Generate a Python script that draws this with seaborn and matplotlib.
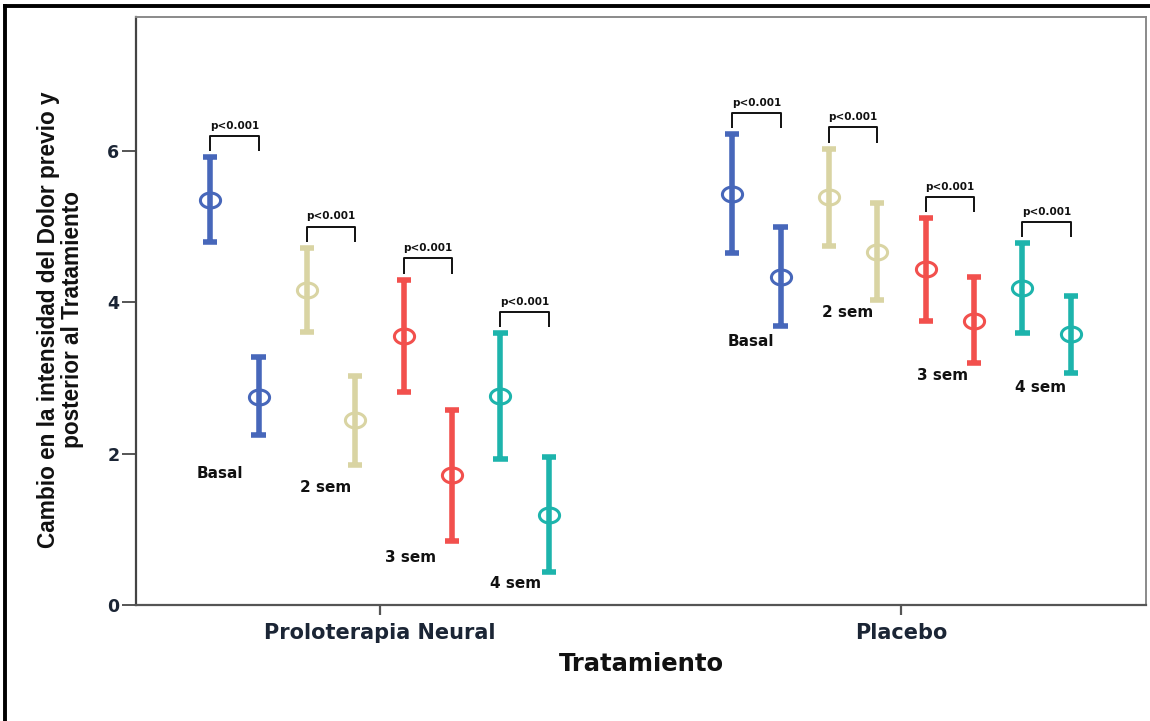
import numpy as np
import pandas as pd
import matplotlib
matplotlib.use("Agg")
import matplotlib.pyplot as plt
from matplotlib.lines import Line2D
from matplotlib.path import Path
import seaborn as sns

# ---------------- data ----------------
groups = ["Proloterapia Neural", "Placebo"]
timepoints = ["Basal", "2 sem", "3 sem", "4 sem"]
phases = ["previo", "posterior"]

# Proloterapia Neural
pn_pre_mean = [5.35, 4.16, 3.55, 2.76]
pn_pre_lo = [4.80, 3.61, 2.81, 1.93]
pn_pre_hi = [5.92, 4.72, 4.30, 3.59]
pn_post_mean = [2.75, 2.44, 1.72, 1.19]
pn_post_lo = [2.25, 1.85, 0.85, 0.44]
pn_post_hi = [3.28, 3.03, 2.58, 1.96]

# Placebo
pl_pre_mean = [5.43, 5.39, 4.44, 4.19]
pl_pre_lo = [4.65, 4.74, 3.75, 3.59]
pl_pre_hi = [6.22, 6.03, 5.11, 4.78]
pl_post_mean = [4.33, 4.66, 3.75, 3.58]
pl_post_lo = [3.69, 4.03, 3.20, 3.07]
pl_post_hi = [5.00, 5.31, 4.34, 4.08]

p_text = "p<0.001"

# label placement (annotation positions)
label_y = {"Proloterapia Neural": [1.74, 1.55, 0.63, 0.29],
           "Placebo": [3.48, 3.87, 3.03, 2.87]}
label_dx = {"Proloterapia Neural": [-0.027, -0.010, -0.033, -0.017],
            "Placebo": [-0.011, -0.011, -0.015, -0.011]}

colors = ["#4767BA", "#D9D4A3", "#F2504D", "#1DB4AC"]

# ---------------- long table ----------------
series = {
    "Proloterapia Neural": (pn_pre_mean, pn_pre_lo, pn_pre_hi, pn_post_mean, pn_post_lo, pn_post_hi),
    "Placebo": (pl_pre_mean, pl_pre_lo, pl_pre_hi, pl_post_mean, pl_post_lo, pl_post_hi),
}
rows = []
for g in groups:
    pm, plo, phi, qm, qlo, qhi = series[g]
    for i, tp in enumerate(timepoints):
        for ph, (m, lo, hi) in zip(phases, [(pm[i], plo[i], phi[i]), (qm[i], qlo[i], qhi[i])]):
            for v in (lo, m, hi):
                rows.append({"Tratamiento": g, "serie": f"{tp} {ph}", "valor": v})
df = pd.DataFrame(rows)
hue_order = [f"{tp} {ph}" for tp in timepoints for ph in phases]
palette = {f"{tp} {ph}": c for tp, c in zip(timepoints, colors) for ph in phases}

# ---------------- figure ----------------
sns.set_theme(style="white")
plt.rcParams["font.family"] = ["DejaVu Sans"]
plt.rcParams["font.weight"] = "bold"

fig = plt.figure(figsize=(11.5, 7.21), dpi=100)
ax = fig.add_axes([136 / 1150, 1 - 605 / 721, 1010 / 1150, 588 / 721])

theta = np.linspace(0, 2 * np.pi, 73)
ellipse = Path(np.column_stack([np.cos(theta), 0.74 * np.sin(theta)]), closed=True)

sns.pointplot(
    data=df, x="Tratamiento", y="valor", hue="serie",
    order=groups, hue_order=hue_order, palette=palette,
    estimator="median", errorbar=lambda v: (v.min(), v.max()),
    dodge=0.649, linestyle="none", marker=ellipse,
    markersize=14.5, markeredgewidth=2.2, markerfacecolor="none",
    capsize=0.027, err_kws={"linewidth": 4.0, "solid_capstyle": "butt"},
    legend=False, ax=ax,
)

ax.set_xlim(-0.4665, 1.4684)
ax.set_ylim(0, 7.77)
ax.set_yticks([0, 2, 4, 6])

# positions of the plotted points
mlines = [l for l in ax.lines if l.get_linestyle() in ("None", "none", "")]
xs = np.array([np.asarray(l.get_xdata(), dtype=float) for l in mlines])

for gi, g in enumerate(groups):
    pm, plo, phi, qm, qlo, qhi = series[g]
    for i, tp in enumerate(timepoints):
        x0, x1 = xs[2 * i, gi], xs[2 * i + 1, gi]
        top = phi[i] + 0.28
        leg = phi[i] + 0.08
        ax.plot([x0, x0, x1, x1], [leg, top, top, leg], color="#111111",
                lw=1.4, solid_joinstyle="round", solid_capstyle="butt")
        ax.text((x0 + x1) / 2, top + 0.07, p_text, ha="center", va="bottom",
                fontsize=7.5, fontweight="bold", color="#111111")
        ax.text((x0 + x1) / 2 + label_dx[g][i], label_y[g][i], tp,
                ha="center", va="center", fontsize=11, fontweight="bold", color="#111111")

# spines and ticks
for side, col, lw in [("left", "#444444", 1.6), ("bottom", "#555555", 1.6),
                      ("top", "#8a8a8a", 1.4), ("right", "#8a8a8a", 1.4)]:
    ax.spines[side].set_visible(True)
    ax.spines[side].set_color(col)
    ax.spines[side].set_linewidth(lw)

ax.tick_params(axis="y", direction="out", length=10, width=1.4, color="#555555",
               pad=2, labelsize=12.5, labelcolor="#1b2535", left=True)
ax.tick_params(axis="x", direction="out", length=7, width=1.6, color="#555555",
               pad=6, labelsize=15, labelcolor="#1b2535", bottom=True)
for lbl in ax.get_xticklabels() + ax.get_yticklabels():
    lbl.set_fontweight("bold")

ax.set_xlabel("Tratamiento", fontsize=17.5, fontweight="bold", color="#111111")
ax.xaxis.set_label_coords(0.5, -0.080)
ax.set_ylabel("Cambio en la intensidad del Dolor previo y\nposterior al Tratamiento",
              fontsize=16.3, fontweight="bold", color="#111111",
              family=["Liberation Sans", "DejaVu Sans"], linespacing=1.05)
ax.yaxis.set_label_coords(-0.0515, 0.485)

# figure border (left and top)
fig.add_artist(Line2D([5 / 1150, 5 / 1150], [0, 1 - 6 / 721], transform=fig.transFigure,
                      color="black", lw=2.8, solid_capstyle="projecting"))
fig.add_artist(Line2D([5 / 1150, 1], [1 - 6 / 721, 1 - 6 / 721], transform=fig.transFigure,
                      color="black", lw=2.8, solid_capstyle="projecting"))

fig.savefig("out.png", dpi=100, facecolor="white")
